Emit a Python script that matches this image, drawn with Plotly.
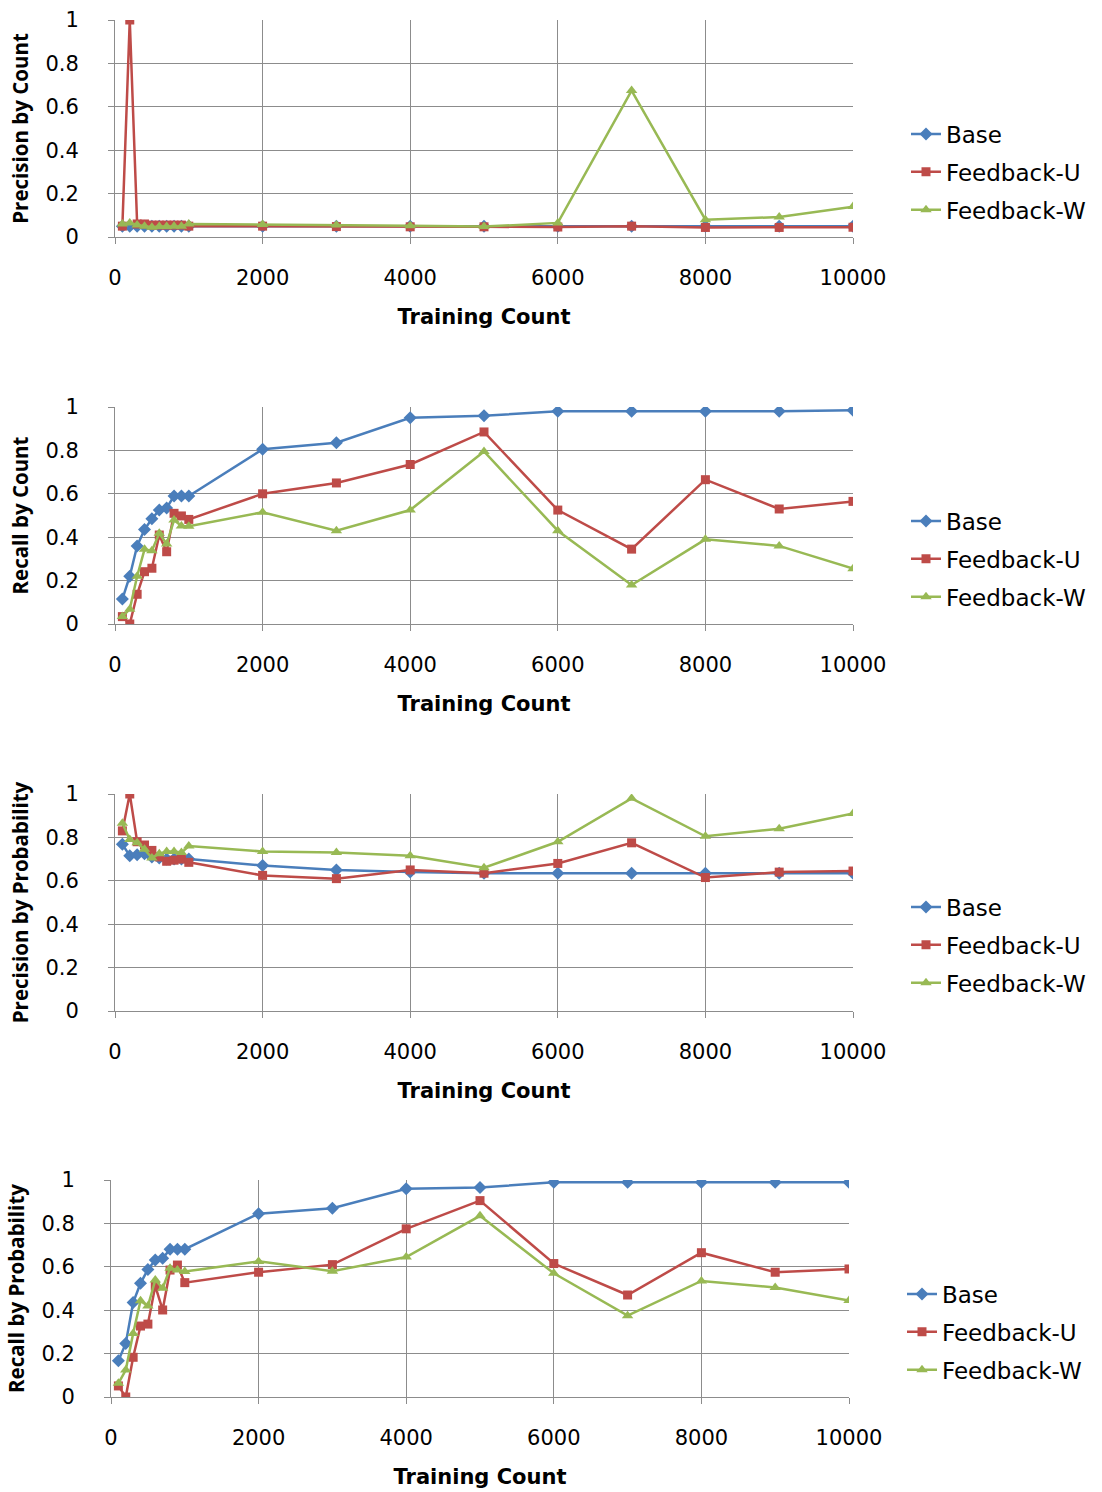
import plotly.graph_objects as go

# Training set sizes shared by every panel
training_count = [100, 200, 300, 400, 500, 600, 700, 800, 900, 1000,
                  2000, 3000, 4000, 5000, 6000, 7000, 8000, 9000, 10000]

series_names = ["Base", "Feedback-U", "Feedback-W"]

x_ticks = [0, 2000, 4000, 6000, 8000, 10000]
x_tick_text = ["0", "2000", "4000", "6000", "8000", "10000"]
y_ticks = [0, 0.2, 0.4, 0.6, 0.8, 1]
y_tick_text = ["0", "0.2", "0.4", "0.6", "0.8", "1"]

# Precision by Count
prec_count_base = [0.05, 0.05, 0.05, 0.05, 0.05, 0.05, 0.05, 0.05, 0.05, 0.05,
                   0.05, 0.05, 0.05, 0.05, 0.05, 0.05, 0.05, 0.05, 0.05]
prec_count_fu = [0.05, 1.0, 0.06, 0.06, 0.055, 0.055, 0.055, 0.055, 0.055, 0.05,
                 0.05, 0.048, 0.047, 0.047, 0.046, 0.05, 0.044, 0.044, 0.045]
prec_count_fw = [0.06, 0.065, 0.055, 0.05, 0.045, 0.048, 0.048, 0.05, 0.05, 0.06,
                 0.058, 0.055, 0.052, 0.048, 0.065, 0.675, 0.08, 0.092, 0.14]

# Recall by Count
rec_count_base = [0.115, 0.22, 0.36, 0.435, 0.485, 0.525, 0.535, 0.59, 0.59, 0.59,
                  0.805, 0.835, 0.95, 0.96, 0.98, 0.98, 0.98, 0.98, 0.985]
rec_count_fu = [0.034, 0.0, 0.137, 0.241, 0.257, 0.41, 0.333, 0.51, 0.498, 0.482,
                0.6, 0.65, 0.735, 0.885, 0.525, 0.345, 0.665, 0.53, 0.565]
rec_count_fw = [0.034, 0.068, 0.22, 0.344, 0.338, 0.418, 0.369, 0.479, 0.452, 0.45,
                0.515, 0.43, 0.525, 0.795, 0.43, 0.18, 0.39, 0.36, 0.255]

# Precision by Probability
prec_prob_base = [0.768, 0.716, 0.72, 0.725, 0.71, 0.705, 0.70, 0.70, 0.70, 0.70,
                  0.67, 0.65, 0.64, 0.635, 0.635, 0.635, 0.635, 0.635, 0.635]
prec_prob_fu = [0.83, 1.0, 0.78, 0.765, 0.74, 0.71, 0.69, 0.695, 0.70, 0.685,
                0.625, 0.61, 0.65, 0.635, 0.68, 0.775, 0.615, 0.64, 0.645]
prec_prob_fw = [0.865, 0.79, 0.775, 0.745, 0.705, 0.725, 0.735, 0.735, 0.73, 0.76,
                0.735, 0.73, 0.715, 0.66, 0.78, 0.98, 0.805, 0.84, 0.91]

# Recall by Probability
rec_prob_base = [0.167, 0.247, 0.435, 0.524, 0.588, 0.631, 0.639, 0.681, 0.681, 0.681,
                 0.845, 0.87, 0.96, 0.965, 0.99, 0.99, 0.99, 0.99, 0.99]
rec_prob_fu = [0.051, 0.0, 0.183, 0.327, 0.336, 0.511, 0.401, 0.585, 0.608, 0.527,
               0.575, 0.61, 0.775, 0.905, 0.615, 0.47, 0.665, 0.575, 0.59]
rec_prob_fw = [0.063, 0.124, 0.293, 0.444, 0.419, 0.539, 0.501, 0.593, 0.585, 0.578,
               0.625, 0.58, 0.645, 0.835, 0.57, 0.375, 0.535, 0.505, 0.445]

panels = [
    ("Precision by Count", [prec_count_base, prec_count_fu, prec_count_fw]),
    ("Recall by Count", [rec_count_base, rec_count_fu, rec_count_fw]),
    ("Precision by Probability", [prec_prob_base, prec_prob_fu, prec_prob_fw]),
    ("Recall by Probability", [rec_prob_base, rec_prob_fu, rec_prob_fw]),
]

colors = ["#4A7EBB", "#BE4B48", "#98B954"]
symbols = ["diamond", "square", "triangle-up"]
marker_sizes = [10, 9, 10]

W, H = 1102, 1492
TICK_FONT = "DejaVu Sans"
TITLE_FONT = "Open Sans"
GRID = "#8C8C8C"

# pixel boxes of each plot area: (left, right, top, bottom)
boxes = [(115, 853, 20, 237), (115, 853, 407, 624), (115, 853, 794, 1011), (111, 849, 1180, 1397)]
# legend anchor: left edge and centre line of the middle entry
legend_pos = [(906, 172), (906, 559), (906, 945), (902, 1332)]

fig = go.Figure()
layout = {}
for i, (title, ys) in enumerate(panels):
    n = "" if i == 0 else str(i + 1)
    legname = "legend" if i == 0 else f"legend{i + 1}"
    for k in range(3):
        fig.add_trace(go.Scatter(
            x=training_count, y=ys[k], name=series_names[k],
            mode="lines+markers",
            line=dict(color=colors[k], width=2.5),
            marker=dict(symbol=symbols[k], size=marker_sizes[k], color=colors[k]),
            xaxis="x" + n, yaxis="y" + n, legend=legname,
            legendgroup=f"p{i}s{k}",
        ))
    l, r, t, b = boxes[i]
    layout["xaxis" + n] = dict(
        domain=[l / W, r / W], anchor="y" + n, range=[0, 10000],
        tickvals=x_ticks, ticktext=x_tick_text,
        showgrid=True, gridcolor=GRID, gridwidth=1,
        showline=True, linecolor=GRID, linewidth=1,
        ticks="outside", ticklen=6, tickcolor=GRID,
        ticklabelstandoff=16,
        tickfont=dict(family=TICK_FONT, size=21, color="#000"),
        title=dict(text="<b>Training Count</b>", standoff=20,
                   font=dict(family=TICK_FONT, size=21, color="#000")),
        zeroline=False, automargin=False,
    )
    layout["yaxis" + n] = dict(
        domain=[(H - b) / H, (H - t) / H], anchor="x" + n, range=[0, 1],
        tickvals=y_ticks, ticktext=y_tick_text,
        showgrid=True, gridcolor=GRID, gridwidth=1,
        showline=True, linecolor=GRID, linewidth=1,
        ticks="outside", ticklen=6, tickcolor=GRID,
        ticklabelstandoff=25,
        tickfont=dict(family=TICK_FONT, size=21, color="#000"),
        title=dict(text=f"<b>{title}</b>", standoff=11,
                   font=dict(family=TITLE_FONT, size=20.5, color="#000")),
        zeroline=False, automargin=False,
    )
    lx, ly = legend_pos[i]
    layout[legname] = dict(
        x=lx / W, y=(H - ly) / H, xanchor="left", yanchor="middle",
        font=dict(family=TICK_FONT, size=23, color="#000"),
        bgcolor="rgba(0,0,0,0)", itemwidth=30, tracegroupgap=5,
    )

fig.update_layout(
    template="none",
    width=W, height=H,
    margin=dict(l=0, r=0, t=0, b=0),
    paper_bgcolor="white", plot_bgcolor="white",
    showlegend=True,
    **layout,
)

fig.write_html("out.html")
